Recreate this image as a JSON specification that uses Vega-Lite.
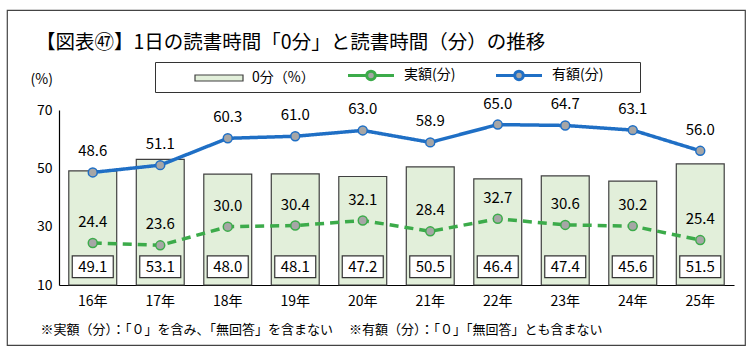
{
  "$schema": "https://vega.github.io/schema/vega-lite/v6.json",
  "width": 738,
  "height": 335,
  "autosize": "none",
  "padding": {"left": 7, "top": 10, "right": 5, "bottom": 15},
  "background": "white",
  "config": {
    "font": "Noto Sans CJK JP",
    "view": {"stroke": "#444", "strokeWidth": 1.2},
    "axis": {"grid": false, "ticks": false, "domainColor": "#000", "domainWidth": 1.2, "labelColor": "#000", "labelFont": "Noto Sans CJK JP", "titleFont": "Noto Sans CJK JP", "titleFontWeight": "normal", "titleColor": "#000"},
    "legend": {"labelFont": "Noto Sans CJK JP", "labelFontSize": 14, "labelColor": "#000", "titleFont": "Noto Sans CJK JP", "titleFontWeight": "normal"},
    "text": {"font": "Noto Sans CJK JP", "color": "#000"}
  },
  "title": {
    "text": "【図表㊼】1日の読書時間「0分」と読書時間（分）の推移",
    "frame": "group",
    "anchor": "start",
    "baseline": "alphabetic",
    "offset": -58,
    "dx": 29,
    "fontSize": 19.5,
    "fontWeight": "normal",
    "color": "#000",
    "font": "Noto Sans CJK JP"
  },
  "datasets": {
    "bars": [
      {"year": "16年", "zero": 49.1},
      {"year": "17年", "zero": 53.1},
      {"year": "18年", "zero": 48.0},
      {"year": "19年", "zero": 48.1},
      {"year": "20年", "zero": 47.2},
      {"year": "21年", "zero": 50.5},
      {"year": "22年", "zero": 46.4},
      {"year": "23年", "zero": 47.4},
      {"year": "24年", "zero": 45.6},
      {"year": "25年", "zero": 51.5}
    ],
    "lines": [
      {"year": "16年", "series": "実額(分)", "value": 24.4},
      {"year": "17年", "series": "実額(分)", "value": 23.6},
      {"year": "18年", "series": "実額(分)", "value": 30.0},
      {"year": "19年", "series": "実額(分)", "value": 30.4},
      {"year": "20年", "series": "実額(分)", "value": 32.1},
      {"year": "21年", "series": "実額(分)", "value": 28.4},
      {"year": "22年", "series": "実額(分)", "value": 32.7},
      {"year": "23年", "series": "実額(分)", "value": 30.6},
      {"year": "24年", "series": "実額(分)", "value": 30.2},
      {"year": "25年", "series": "実額(分)", "value": 25.4},
      {"year": "16年", "series": "有額(分)", "value": 48.6},
      {"year": "17年", "series": "有額(分)", "value": 51.1},
      {"year": "18年", "series": "有額(分)", "value": 60.3},
      {"year": "19年", "series": "有額(分)", "value": 61.0},
      {"year": "20年", "series": "有額(分)", "value": 63.0},
      {"year": "21年", "series": "有額(分)", "value": 58.9},
      {"year": "22年", "series": "有額(分)", "value": 65.0},
      {"year": "23年", "series": "有額(分)", "value": 64.7},
      {"year": "24年", "series": "有額(分)", "value": 63.1},
      {"year": "25年", "series": "有額(分)", "value": 56.0}
    ]
  },
  "encoding": {
    "x": {
      "field": "year",
      "type": "ordinal",
      "sort": null,
      "scale": {"domain": ["16年","17年","18年","19年","20年","21年","22年","23年","24年","25年"], "range": [52, 727], "paddingInner": 0.29, "paddingOuter": 0.145},
      "axis": {
        "offset": -60,
        "labelAngle": 0,
        "labelPadding": 9,
        "labelFontSize": 14,
        "title": "※実額（分）：「０」を含み、「無回答」を含まない　 ※有額（分）：「０」「無回答」とも含まない",
        "titleX": 33,
        "titleY": 44,
        "titleAlign": "left",
        "titleAnchor": "start",
        "titleBaseline": "middle",
        "titleFontSize": 13
      }
    }
  },
  "layer": [
    {
      "data": {"name": "bars"},
      "mark": {"type": "bar", "stroke": "#404040", "strokeWidth": 1.2},
      "encoding": {
        "y": {
          "field": "zero",
          "type": "quantitative",
          "scale": {"domain": [10, 70], "range": [275, 100], "nice": false, "zero": false},
          "axis": {
            "values": [10, 30, 50, 70],
            "offset": -52,
            "labelPadding": 7,
            "labelFontSize": 14,
            "title": "(%)",
            "titleAngle": 0,
            "titleX": -29,
            "titleY": 69,
            "titleAlign": "left",
            "titleBaseline": "middle",
            "titleFontSize": 14
          }
        },
        "y2": {"datum": 10},
        "fill": {
          "datum": "0分（%）",
          "type": "nominal",
          "scale": {"domain": ["0分（%）"], "range": ["#E2EFDA"]},
          "legend": {
            "orient": "none",
            "legendX": 186,
            "legendY": 61,
            "title": null,
            "padding": 0,
            "symbolType": "M-1,-0.6H8.6V0.6H-1Z",
            "symbolSize": 100,
            "symbolStrokeWidth": 1.2,
            "symbolStrokeColor": "#404040",
            "labelOffset": 45
          }
        }
      }
    },
    {
      "data": {"name": "bars"},
      "mark": {"type": "bar", "width": 41, "fill": "white", "stroke": "#333", "strokeWidth": 1.2},
      "encoding": {
        "y": {"datum": 12.5, "type": "quantitative"},
        "y2": {"datum": 20.0}
      }
    },
    {
      "data": {"name": "bars"},
      "mark": {"type": "text", "fontSize": 15, "baseline": "middle"},
      "encoding": {
        "y": {"datum": 16.2, "type": "quantitative"},
        "text": {"field": "zero", "type": "quantitative", "format": ".1f"}
      }
    },
    {
      "data": {"name": "lines"},
      "mark": {"type": "line", "strokeWidth": 3.5},
      "encoding": {
        "y": {"field": "value", "type": "quantitative"},
        "color": {"field": "series", "type": "nominal", "scale": {"domain": ["有額(分)", "実額(分)"], "range": ["#1F6FC5", "#3CAB4A"]}, "legend": null},
        "strokeDash": {"field": "series", "type": "nominal", "scale": {"domain": ["有額(分)", "実額(分)"], "range": [[1, 0], [9, 6]]}, "legend": null}
      }
    },
    {
      "data": {"name": "lines"},
      "mark": {"type": "point", "filled": true, "fill": "#A6A6A6", "size": 80, "strokeWidth": 1.5, "opacity": 1},
      "encoding": {
        "y": {"field": "value", "type": "quantitative"},
        "stroke": {
          "field": "series",
          "type": "nominal",
          "scale": {"domain": ["実額(分)", "有額(分)"], "range": ["#3CAB4A", "#1F6FC5"]},
          "legend": {
            "orient": "none",
            "legendX": 148,
            "legendY": 52,
            "direction": "horizontal",
            "title": "　",
            "titleOrient": "left",
            "titleFontSize": 14,
            "titlePadding": 185,
            "padding": 6,
            "strokeColor": "#333",
            "symbolType": "M-1,0H2.75 M4.45,0A0.85,0.85,0,1,1,2.75,0A0.85,0.85,0,1,1,4.45,0 M4.45,0H8.2",
            "symbolSize": 100,
            "symbolStrokeWidth": 3,
            "symbolFillColor": "#A6A6A6",
            "symbolOpacity": 1,
            "labelOffset": 44,
            "columnPadding": 34,
            "labelExpr": "datum.label === '有額(分)' ? datum.label + '⠀⠀⠀' : datum.label"
          }
        }
      }
    },
    {
      "data": {"name": "lines"},
      "mark": {"type": "text", "fontSize": 15, "dy": -21, "baseline": "middle"},
      "encoding": {
        "y": {"field": "value", "type": "quantitative"},
        "text": {"field": "value", "type": "quantitative", "format": ".1f"}
      }
    }
  ]
}
